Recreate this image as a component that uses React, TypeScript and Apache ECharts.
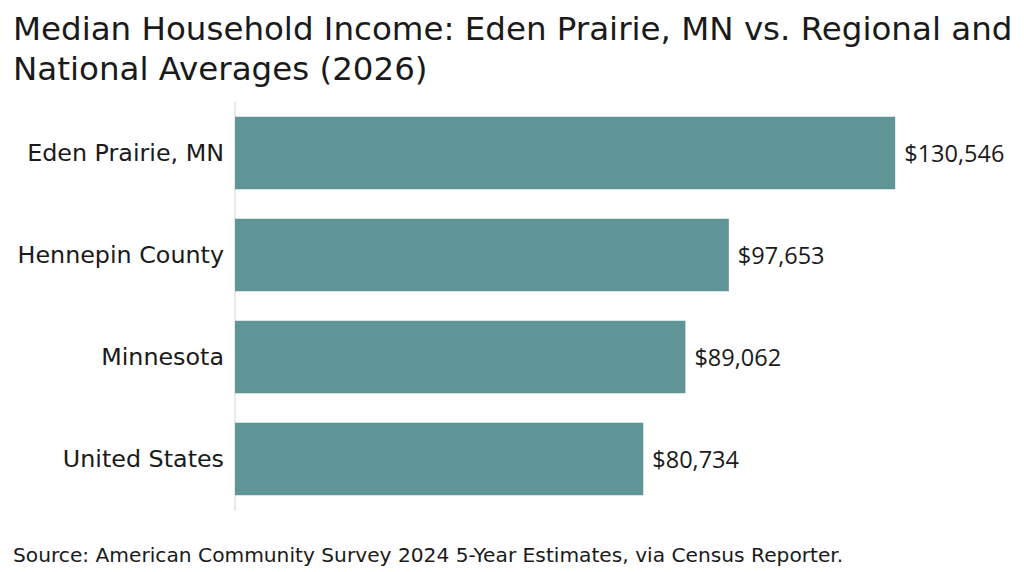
import * as echarts from "echarts";
import { useEffect, useRef } from "react";

const regions = ["Eden Prairie, MN", "Hennepin County", "Minnesota", "United States"];
const incomes = [130546, 97653, 89062, 80734];

const titleText =
  "Median Household Income: Eden Prairie, MN vs. Regional and\nNational Averages (2026)";
const sourceText =
  "Source: American Community Survey 2024 5-Year Estimates, via Census Reporter.";

const FONT = "'DejaVu Sans', sans-serif";
const NUM_FONT = "'Open Sans', sans-serif";
const BAR_COLOR = "#5f9597";

function money(v: number) {
  return "$" + v.toLocaleString("en-US");
}

function getOption() {
  return {
    animation: false,
    title: [
      {
        text: titleText,
        left: 13,
        top: 9,
        padding: 0,
        textStyle: {
          fontFamily: FONT,
          fontSize: 32.5,
          fontWeight: "normal",
          lineHeight: 40,
          color: "#1a1a1a",
        },
      },
      {
        text: sourceText,
        left: 13,
        top: 545,
        padding: 0,
        textStyle: {
          fontFamily: FONT,
          fontSize: 20.2,
          fontWeight: "normal",
          color: "#1a1a1a",
        },
      },
    ],
    grid: { left: 235, top: 102, right: 81, bottom: 62 },
    xAxis: {
      type: "value",
      min: 0,
      max: 140000,
      show: false,
    },
    yAxis: {
      type: "category",
      data: regions,
      inverse: true,
      axisLine: { show: true, lineStyle: { color: "#e2e2e2", width: 1.5 } },
      axisTick: { show: false },
      axisLabel: {
        margin: 11,
        fontFamily: FONT,
        fontSize: 23.8,
        color: "#1a1a1a",
      },
    },
    series: [
      {
        type: "bar",
        data: incomes,
        barWidth: "71%",
        itemStyle: { color: BAR_COLOR },
        label: {
          show: true,
          position: "right",
          distance: 9,
          formatter: (p: { value: number }) => money(p.value),
          fontFamily: NUM_FONT,
          fontSize: 23.5,
          color: "#1a1a1a",
        },
      },
    ],
  };
}

export default function App() {
  const ref = useRef<HTMLDivElement>(null);

  useEffect(() => {
    if (!ref.current) return;
    const chart = echarts.init(ref.current, null, { renderer: "svg" });
    chart.setOption(getOption());
    return () => {
      chart.dispose();
    };
  }, []);

  return (
    <div
      ref={ref}
      style={{
        position: "fixed",
        left: 0,
        top: 0,
        width: 1024,
        height: 572,
        background: "#fff",
      }}
    />
  );
}
